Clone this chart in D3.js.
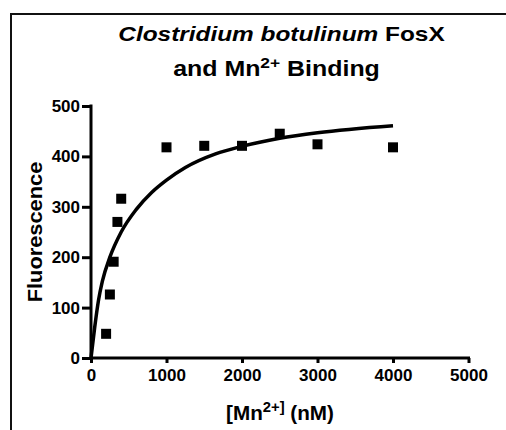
<!DOCTYPE html>
<html>
<head>
<meta charset="utf-8">
<script src="https://cdn.jsdelivr.net/npm/d3@7"></script>
<style>
  html, body { margin: 0; padding: 0; background: #fff; }
  svg { display: block; }
  text { font-family: "Liberation Sans", Arial, sans-serif; font-weight: bold; fill: #000; }
</style>
</head>
<body>
<svg id="chart" width="506" height="430"></svg>
<script>
// Data
const concentrations = [200, 250, 300, 350, 400, 1000, 1500, 2000, 2500, 3000, 4000];
const fluorescence   = [48, 126, 191, 270, 316, 418, 421, 421, 445, 424, 418];
// Fitted curve
const curveX = [0, 50, 100, 150, 250, 400, 600, 800, 1000, 1250, 1650, 2000, 2500, 3000, 4000];
const curveY = [0, 62, 115, 152, 200, 250, 295, 328, 353, 378, 405, 420, 436, 447, 461];
const xTicks = [0, 1000, 2000, 3000, 4000, 5000];
const yTicks = [0, 100, 200, 300, 400, 500];

const svg = d3.select("#chart");

// outer frame (cropped at right and bottom)
svg.append("rect")
  .attr("x", 11).attr("y", 14).attr("width", 520).attr("height", 440)
  .attr("fill", "none").attr("stroke", "#111").attr("stroke-width", 2);

const x = d3.scaleLinear().domain([0, 5000]).range([91, 468.5]);
const y = d3.scaleLinear().domain([0, 500]).range([358, 106]);

// Title (horizontally stretched like the reference)
const t1 = svg.append("text").attr("text-anchor", "middle").attr("font-size", 20.5)
  .attr("transform", "translate(281.5,41) scale(1.19,1)");
t1.append("tspan").attr("font-style", "italic").text("Clostridium botulinum");
t1.append("tspan").text(" FosX");
const t2 = svg.append("text").attr("text-anchor", "middle").attr("font-size", 21.5)
  .attr("transform", "translate(276.5,76) scale(1.16,1)");
t2.append("tspan").text("and Mn");
t2.append("tspan").attr("font-size", 15).attr("dy", -8).text("2+");
t2.append("tspan").attr("dy", 8).text(" Binding");

// Axes
const xAxis = svg.append("g").attr("transform", "translate(0,358)")
  .call(d3.axisBottom(x).tickValues(xTicks).tickSize(5).tickPadding(6).tickFormat(d3.format("d")));
const yAxis = svg.append("g").attr("transform", "translate(91,0)")
  .call(d3.axisLeft(y).tickValues(yTicks).tickSize(9).tickPadding(2).tickFormat(d3.format("d")));
[xAxis, yAxis].forEach(g => {
  g.select(".domain").attr("stroke", "#000").attr("stroke-width", 3);
  g.selectAll(".tick line").attr("stroke", "#000").attr("stroke-width", 3);
  g.selectAll(".tick text").attr("font-size", 17).attr("font-family", "Liberation Sans, Arial, sans-serif")
    .attr("font-weight", "bold").attr("fill", "#000");
});
xAxis.select(".domain").attr("d", `M${x(0)},0H${x(5000)+1.5}`);
yAxis.select(".domain").attr("d", `M0,${y(0)+1.5}V${y(500)-1.5}`);

// Axis labels
const xl = svg.append("text").attr("text-anchor", "middle").attr("font-size", 19.5)
  .attr("transform", "translate(280,420) scale(1.06,1)");
xl.append("tspan").text("[Mn");
xl.append("tspan").attr("font-size", 14).attr("dy", -8).text("2+]");
xl.append("tspan").attr("dy", 8).text(" (nM)");

svg.append("text").attr("text-anchor", "middle").attr("font-size", 21)
  .attr("transform", "translate(42,232) rotate(-90) scale(1.04,1)").text("Fluorescence");

// Curve
const line = d3.line().x(d => x(d[0])).y(d => y(d[1])).curve(d3.curveMonotoneX);
svg.append("path").datum(curveX.map((v, i) => [v, curveY[i]]))
  .attr("d", line).attr("fill", "none").attr("stroke", "#000").attr("stroke-width", 3.5);

// Points
const s = 10;
svg.append("g").selectAll("rect").data(concentrations.map((v, i) => [v, fluorescence[i]]))
  .join("rect")
  .attr("x", d => x(d[0]) - s / 2).attr("y", d => y(d[1]) - s / 2)
  .attr("width", s).attr("height", s).attr("fill", "#000");
</script>
</body>
</html>
